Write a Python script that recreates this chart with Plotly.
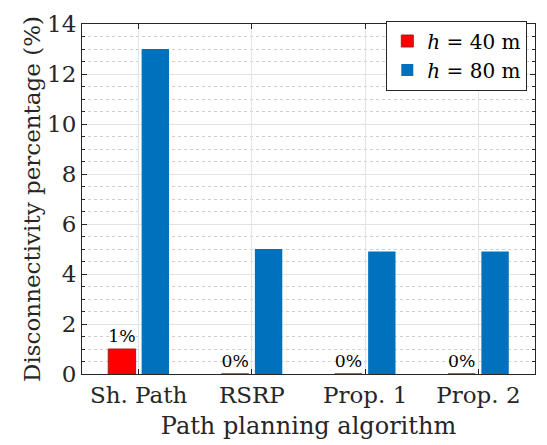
import plotly.graph_objects as go

categories = ["Sh. Path", "RSRP", "Prop. 1", "Prop. 2"]
h40_values = [1, 0, 0, 0]
h80_values = [13, 5, 4.9, 4.9]
h40_labels = ["1%", "0%", "0%", "0%"]
series_names = ["<i>h</i> = 40 m", "<i>h</i> = 80 m"]
y_ticks = [0, 2, 4, 6, 8, 10, 12, 14]

FONT = "DejaVu Serif"
AX = "#262626"

fig = go.Figure()
fig.add_trace(go.Bar(
    x=categories, y=h40_values, name=series_names[0],
    marker=dict(color="#FF0000", line=dict(color="#A02020", width=1)),
    text=h40_labels, textposition="outside", cliponaxis=False,
    textfont=dict(family=FONT, size=18, color="#000000"),
))
fig.add_trace(go.Bar(
    x=categories, y=h80_values, name=series_names[1],
    marker=dict(color="#0072BD", line=dict(color="#0072BD", width=0)),
))

fig.update_layout(
    width=547, height=445,
    margin=dict(l=82, r=11, t=15, b=71),
    paper_bgcolor="white", plot_bgcolor="white",
    barmode="group", bargap=0.41, bargroupgap=0.18,
    font=dict(family=FONT, size=22, color="#262626"),
    showlegend=True,
    legend=dict(
        x=0.983, y=1.01, xanchor="right", yanchor="top",
        bgcolor="white", bordercolor=AX, borderwidth=1,
        font=dict(family=FONT, size=20, color="#000000"),
        tracegroupgap=0, itemwidth=30,
    ),
)
fig.update_xaxes(
    showline=True, linecolor=AX, linewidth=1, mirror="allticks",
    ticks="inside", ticklen=5, tickcolor=AX,
    showgrid=True, gridcolor="#E3E3E3", gridwidth=1,
    title=dict(text="Path planning algorithm", font=dict(size=24, family=FONT, color="#262626"), standoff=10),
    tickfont=dict(family=FONT, size=23, color="#262626"),
)
fig.update_yaxes(
    range=[0, 14], tickvals=y_ticks,
    showline=True, linecolor=AX, linewidth=1, mirror="allticks",
    ticks="inside", ticklen=5, tickcolor=AX,
    showgrid=True, gridcolor="#E3E3E3", gridwidth=1,
    zeroline=False,
    minor=dict(dtick=0.5, ticks="inside", ticklen=3, tickcolor=AX,
               showgrid=True, gridcolor="#CFCFCF", griddash="dot", gridwidth=1),
    title=dict(text="Disconnectivity percentage (%)", font=dict(size=23, family=FONT, color="#262626"), standoff=0),
    tickfont=dict(family=FONT, size=23, color="#262626"),
)
fig.write_html("out.html")
